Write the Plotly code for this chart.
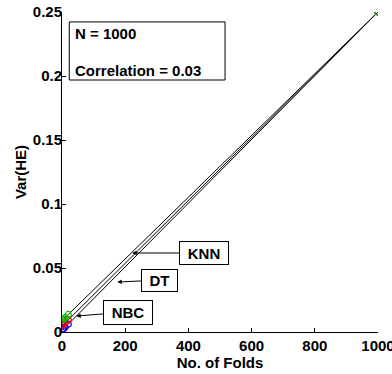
import plotly.graph_objects as go

folds = [2, 5, 10, 20, 1000]
knn = [0.0094, 0.0101, 0.0113, 0.0137, 0.25]
dt = [0.0052, 0.0059, 0.0071, 0.0095, 0.25]
nbc = [0.0018, 0.0025, 0.0037, 0.0061, 0.25]

x_ticks = [0, 200, 400, 600, 800, 1000]
y_ticks = [0, 0.05, 0.1, 0.15, 0.2, 0.25]
y_ticktext = ["0", "0.05", "0.1", "0.15", "0.2", "0.25"]

FONT = "Liberation Sans"
fig = go.Figure()

series = [("NBC", nbc, "blue"), ("DT", dt, "red"), ("KNN", knn, "#00c000")]
for name, vals, col in series:
    fig.add_trace(go.Scatter(x=folds, y=vals, mode="lines",
                             line=dict(color="black", width=1),
                             showlegend=False, hoverinfo="skip"))
for name, vals, col in series:
    fig.add_trace(go.Scatter(x=folds, y=vals, mode="markers", name=name,
                             marker=dict(symbol="circle-open", size=6,
                                         color=col, line=dict(width=1.2, color=col)),
                             showlegend=False))

labels = [
    ("KNN", 222, 0.0617, 72, 0, 46, 20),
    ("DT", 175, 0.039, 42, -2, 33, 19),
    ("NBC", 45, 0.0125, 52, -4, 46, 21),
]
for txt, xt, yt, ax, ay, w, h in labels:
    fig.add_annotation(x=xt, y=yt, xref="x", yref="y", text="<b>" + txt + "</b>",
                       showarrow=True, ax=ax, ay=ay, arrowhead=2, arrowsize=0.9,
                       arrowwidth=1, arrowcolor="black",
                       font=dict(family=FONT, size=15, color="black"),
                       bgcolor="white", bordercolor="black", borderwidth=1,
                       borderpad=1, width=w, height=h)

fig.add_shape(type="rect", xref="paper", yref="paper",
              x0=0.023, x1=0.516, y0=0.7875, y1=0.969,
              line=dict(color="black", width=1), fillcolor="white", layer="above")
fig.add_annotation(x=0.036, y=0.934, xref="paper", yref="paper", text="<b>N = 1000</b>",
                   showarrow=False, xanchor="left", yanchor="middle",
                   font=dict(family=FONT, size=15, color="black"))
fig.add_annotation(x=0.036, y=0.816, xref="paper", yref="paper", text="<b>Correlation = 0.03</b>",
                   showarrow=False, xanchor="left", yanchor="middle",
                   font=dict(family=FONT, size=15, color="black"))

axis_common = dict(showgrid=False, zeroline=False, showline=True, linecolor="black",
                   linewidth=1, ticks="inside", ticklen=4, tickcolor="black",
                   tickfont=dict(family=FONT, size=15, color="black"),
                   mirror=False, ticklabeloverflow="allow")
fig.update_xaxes(range=[0, 1000], tickvals=x_ticks,
                 ticktext=["<b>%d</b>" % v for v in x_ticks],
                 title=dict(text="<b>No. of Folds</b>", standoff=0,
                            font=dict(family=FONT, size=15, color="black")),
                 **axis_common)
fig.update_yaxes(range=[0, 0.25], tickvals=y_ticks,
                 ticktext=["<b>%s</b>" % t for t in y_ticktext],
                 ticklabelstandoff=-4,
                 title=dict(text="<b>Var(HE)</b>", standoff=2,
                            font=dict(family=FONT, size=15, color="black")),
                 **axis_common)

fig.update_layout(width=392, height=374,
                  margin=dict(l=62, r=14, t=12, b=42, autoexpand=False),
                  plot_bgcolor="white", paper_bgcolor="white")
fig.write_html("out.html")
